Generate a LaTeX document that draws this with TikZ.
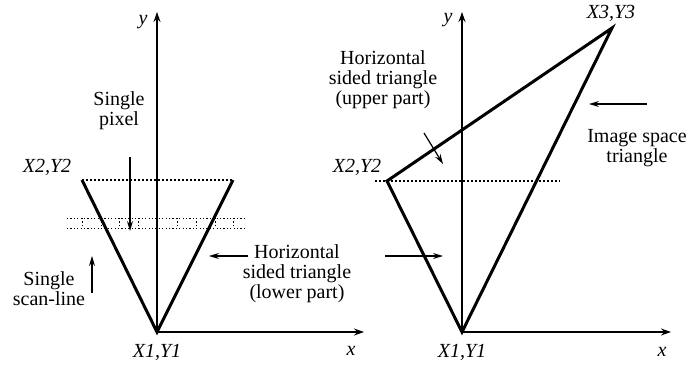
\documentclass[tikz,border=0pt]{standalone}
\usepackage{fontspec}
\setmainfont{Liberation Serif}
\usetikzlibrary{arrows.meta}
\tikzset{
  lbl/.style={font=\fontsize{10}{10}\selectfont, align=center, inner sep=0pt},
  vtx/.style={font=\fontsize{10}{10}\selectfont\itshape, inner sep=0pt},
  axis/.style={line width=0.75pt, -{Stealth[length=5pt,width=3.5pt]}},
  pointer/.style={line width=0.6pt, -{Stealth[length=5pt,width=3pt]}},
  edge/.style={line width=1.5pt, line join=miter},
  topline/.style={line width=1.2pt, dash pattern=on 1pt off 1pt},
  band/.style={line width=0.5pt, dash pattern=on 0.6pt off 1.1pt}
}
\begin{document}
\begin{tikzpicture}[x=0.5pt, y=-0.5pt]
  \useasboundingbox (0,0) rectangle (696,370);
  % left: lower part only
  \coordinate (o1) at (157,332);
  \coordinate (y1) at (157,12);
  \coordinate (x1) at (364,332);
  \coordinate (a2) at (82,180);
  \coordinate (a3) at (233,180);
  \draw[axis] (o1) -- (y1);
  \draw[axis] (o1) -- (x1);
  \draw[band] (67,218) -- (247,218);
  \draw[band] (67,228) -- (247,228);
  \foreach \px in {82,101,119,138,177,196,215,233}
    \draw[band] (\px,218) -- (\px,228);
  \draw[topline] (a2) -- (a3);
  \draw[edge] (a2) -- (o1) -- (a3);
  \node[vtx] (ylab1) at (143,22) {y};
  \node[vtx] (xlab1) at (351,351) {x};
  \node[vtx] (v1a) at (157,352) {X1,Y1};
  \node[vtx] (v2a) at (47,167) {X2,Y2};
  \node[lbl] (pix) at (119,111) {Single\\pixel};
  \node[lbl] (scan) at (49,289) {Single\\scan-line};
  \node[lbl] (lower) at (297,274) {Horizontal\\sided triangle\\(lower part)};
  \coordinate (pixs) at (130,157);
  \coordinate (pixe) at (130,231);
  \coordinate (scans) at (92,293);
  \coordinate (scane) at (92,256);
  \coordinate (lows) at (248,256);
  \coordinate (lowe) at (209,256);
  \coordinate (lows2) at (385,256);
  \coordinate (lowe2) at (443,256);
  \draw[pointer] (pixs) -- (pixe);
  \draw[pointer] (scans) -- (scane);
  \draw[pointer] (lows) -- (lowe);
  \draw[pointer] (lows2) -- (lowe2);
  % right: whole triangle
  \coordinate (o2) at (462,332);
  \coordinate (y2) at (462,12);
  \coordinate (x2) at (671,332);
  \coordinate (b2) at (387,181);
  \coordinate (b3) at (612,28);
  \draw[axis] (o2) -- (y2);
  \draw[axis] (o2) -- (x2);
  \draw[topline] (375,181) -- (560,181);
  \draw[edge] (b2) -- (b3) -- (o2) -- cycle;
  \node[vtx] (ylab2) at (448,20) {y};
  \node[vtx] (xlab2) at (662,352) {x};
  \node[vtx] (v1b) at (462,352) {X1,Y1};
  \node[vtx] (v2b) at (357,167) {X2,Y2};
  \node[vtx] (v3b) at (611,13) {X3,Y3};
  \node[lbl] (upper) at (383,80) {Horizontal\\sided triangle\\(upper part)};
  \node[lbl] (image) at (637,148) {Image space\\triangle};
  \coordinate (ups) at (424,133);
  \coordinate (upe) at (443,164);
  \coordinate (imgs) at (647,104);
  \coordinate (imge) at (589,104);
  \draw[pointer] (ups) -- (upe);
  \draw[pointer] (imgs) -- (imge);
\end{tikzpicture}
\end{document}
